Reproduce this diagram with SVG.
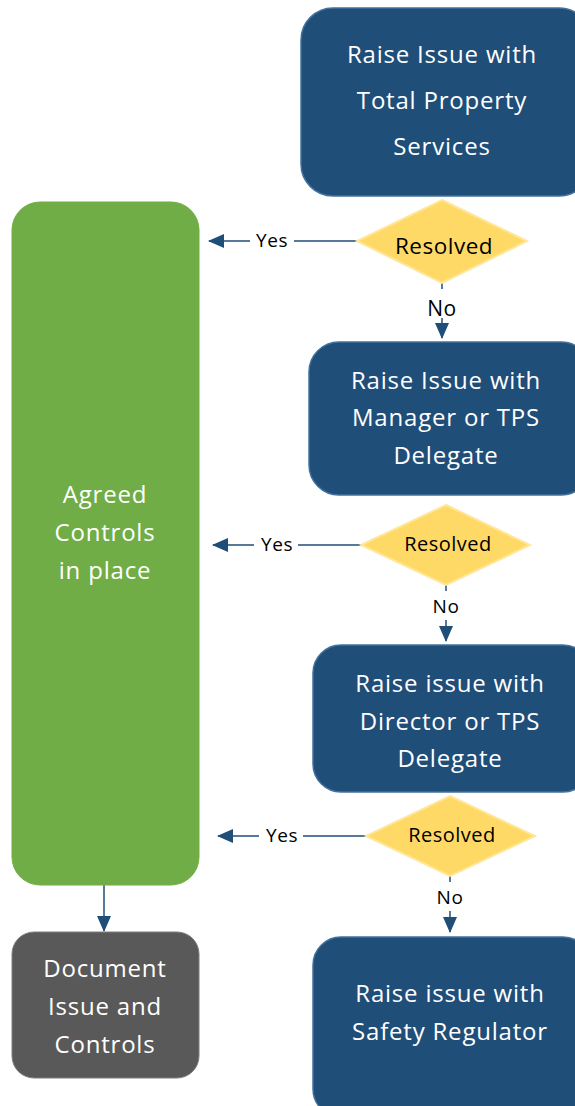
<svg xmlns="http://www.w3.org/2000/svg" width="575" height="1106" viewBox="0 0 575 1106">
<style>
.blue{fill:#1F4E79;stroke:#41719C;stroke-width:1.5}
.green{fill:#70AD47;stroke:#70AD47}
.gray{fill:#595959;stroke:#7f7f7f;stroke-width:1}
.dia{fill:#FFD966;stroke:#FFE699;stroke-width:2}
.t{font-family:"Open Sans","Noto Sans",sans-serif;font-size:24px;letter-spacing:0.8px;fill:#fff;text-anchor:middle}
.d{font-family:"Open Sans","Noto Sans",sans-serif;fill:#000;text-anchor:middle;letter-spacing:0.5px}
.l{font-family:"Open Sans","Noto Sans",sans-serif;font-size:19px;letter-spacing:0.6px;fill:#000;text-anchor:middle}
.c{stroke:#1F4E79;stroke-width:1.5;fill:none}
</style>
<defs>
<marker id="ah2" markerWidth="16" markerHeight="14" refX="15" refY="7" orient="auto" markerUnits="userSpaceOnUse" viewBox="0 0 16 14">
<path d="M0,0 L16,7 L0,14 Z" fill="#1F4E79"/>
</marker>
</defs>
<g id="connectors">
<line class="c" x1="357" y1="241" x2="294" y2="241"/>
<line class="c" x1="250" y1="241" x2="209" y2="241" marker-end="url(#ah2)"/>
<line class="c" x1="442" y1="283" x2="442" y2="289"/>
<line class="c" x1="442" y1="318" x2="442" y2="338" marker-end="url(#ah2)"/>
<line class="c" x1="361" y1="545" x2="298" y2="545"/>
<line class="c" x1="254" y1="545" x2="213" y2="545" marker-end="url(#ah2)"/>
<line class="c" x1="446" y1="585" x2="446" y2="591"/>
<line class="c" x1="446" y1="620" x2="446" y2="641" marker-end="url(#ah2)"/>
<line class="c" x1="366" y1="836" x2="303" y2="836"/>
<line class="c" x1="259" y1="836" x2="218" y2="836" marker-end="url(#ah2)"/>
<line class="c" x1="450" y1="876" x2="450" y2="882"/>
<line class="c" x1="450" y1="911" x2="450" y2="932" marker-end="url(#ah2)"/>
<line class="c" x1="104" y1="885" x2="104" y2="931" marker-end="url(#ah2)"/>
<text class="l" x="272" y="247">Yes</text>
<text class="d" x="442" y="316" font-size="21">No</text>
<text class="l" x="277" y="551">Yes</text>
<text class="l" x="446" y="613">No</text>
<text class="l" x="282" y="842">Yes</text>
<text class="l" x="450" y="904">No</text>
</g>
<g id="n1">
<rect class="blue" x="301" y="8" width="290" height="188" rx="32"/>
<text class="t" x="442" y="63">Raise Issue with</text>
<text class="t" x="442" y="109">Total Property</text>
<text class="t" x="442" y="155">Services</text>
</g>
<g id="d1">
<polygon class="dia" points="442,200 527,241 442,283 357,241"/>
<text class="d" x="444" y="254" font-size="22.5">Resolved</text>
</g>
<g id="n2">
<rect class="blue" x="309" y="342" width="282" height="153" rx="30"/>
<text class="t" x="446" y="389">Raise Issue with</text>
<text class="t" x="446" y="426">Manager or TPS</text>
<text class="t" x="446" y="464">Delegate</text>
</g>
<g id="d2">
<polygon class="dia" points="446,505 530,545 446,585 361,545"/>
<text class="d" x="448" y="551" font-size="20">Resolved</text>
</g>
<g id="n3">
<rect class="blue" x="313" y="645" width="278" height="147" rx="28"/>
<text class="t" x="450" y="692">Raise issue with</text>
<text class="t" x="450" y="730">Director or TPS</text>
<text class="t" x="450" y="767">Delegate</text>
</g>
<g id="d3">
<polygon class="dia" points="450,796 535,836 450,876 366,836"/>
<text class="d" x="452" y="842" font-size="20">Resolved</text>
</g>
<g id="n4">
<rect class="blue" x="313" y="937" width="278" height="180" rx="28"/>
<text class="t" x="450" y="1002">Raise issue with</text>
<text class="t" x="450" y="1040">Safety Regulator</text>
</g>
<g id="green">
<rect class="green" x="12" y="202" width="187" height="683" rx="28"/>
<text class="t" x="105" y="503">Agreed</text>
<text class="t" x="105" y="541">Controls</text>
<text class="t" x="105" y="579">in place</text>
</g>
<g id="doc">
<rect class="gray" x="12" y="932" width="187" height="146" rx="22"/>
<text class="t" x="105" y="977">Document</text>
<text class="t" x="105" y="1015">Issue and</text>
<text class="t" x="105" y="1053">Controls</text>
</g>
</svg>
